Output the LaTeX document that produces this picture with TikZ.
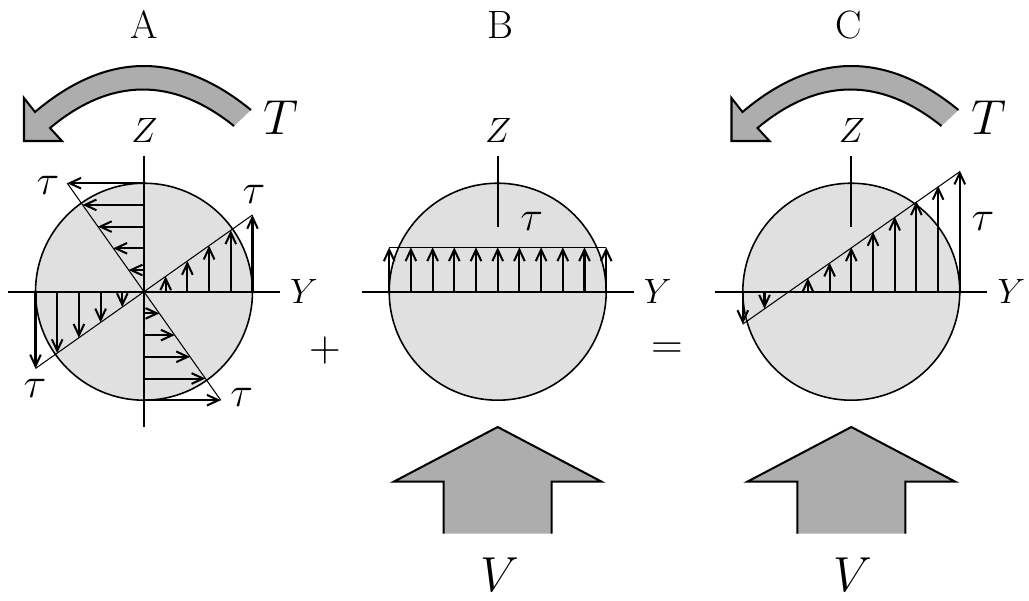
\RequirePackage{fix-cm}
\documentclass[tikz,border=0pt]{standalone}
\usetikzlibrary{arrows.meta}
\definecolor{discgray}{gray}{0.88}
\definecolor{loadgray}{gray}{0.68}
\tikzstyle{disc}=[draw=black,fill=discgray,line width=0.9pt]
\tikzstyle{axis}=[draw,line width=1.15pt]
\tikzstyle{profile}=[draw,line width=0.6pt]
\tikzstyle{stress}=[draw,->,>={Straight Barb[length=6.5pt,width=8pt,angle'=50]},line width=1.15pt]
\tikzstyle{outline}=[draw,line width=1.15pt,line join=miter]
\tikzstyle{title}=[font=\fontsize{22.5}{26}\selectfont]
\tikzstyle{axislabel}=[font=\fontsize{20}{24}\selectfont]
\tikzstyle{biglabel}=[font=\fontsize{28}{32}\selectfont]
\tikzstyle{weight}=[font=\fontsize{24}{28}\selectfont]
\tikzstyle{sign}=[font=\fontsize{25}{30}\selectfont]

\begin{document}
\begin{tikzpicture}[x=0.02cm,y=-0.02cm]

  \def\u{21.7};
  \def\s{15.35};
  \def\yc{291.7};

  \useasboundingbox (0,0) rectangle (1029,600);

  % discs and axes
  \foreach \cx/\name/\label/\lx in {144/A/A/144, 497.7/B/B/500, 851.3/C/C/849} {
    \path[disc] (\cx,\yc) circle (108.5);
    \node[title] (title\name) at (\lx,25) {\label};
    \node[axislabel] (z\name) at (\cx+0.5,130) {$Z$};
    \node[axislabel] (y\name) at (\cx+160,291) {$Y$};
    \path[axis] (\cx-136,\yc) -- (\cx+136,\yc);
  }
  \path[axis] (144,155.5) -- (144,427);
  \path[axis] (497.7,155.5) -- (497.7,227);
  \path[axis] (851.3,155.5) -- (851.3,227);

  % torque arrows
  \def\torqueout{(\x+251,110) .. controls (\x+179,51) and (\x+107,51) .. (\x+35,112) -- (\x+24,98) -- (\x+24,141) -- (\x+62,141) -- (\x+50,128) .. controls (\x+111,77) and (\x+173,77) .. (\x+234,126)}
  \foreach \x/\name in {0/A, 707.5/C} {
    \fill[loadgray] \torqueout -- cycle;
    \path[outline] \torqueout;
    \node[biglabel] (torque\name) at (\x+281,118) {$T$};
  }

  % shear arrows
  \foreach \x/\name in {497.7/B, 851.3/C} {
    \path[fill=loadgray] (\x,427) -- (\x+104,481.7) -- (\x+54,481.7) -- (\x+54,533.5) -- (\x-54,533.5) -- (\x-54,481.7) -- (\x-104,481.7) -- cycle;
    \path[outline] (\x-54,533.5) -- (\x-54,481.7) -- (\x-104,481.7) -- (\x,427) -- (\x+104,481.7) -- (\x+54,481.7) -- (\x+54,533.5);
    \node[biglabel] (shear\name) at (\x+2,575) {$V$};
  }

  % A: torsion
  \path[profile] (144-108.5,\yc+76.75) -- (144+108.5,\yc-76.75);
  \path[profile] (144-76.75,\yc-108.5) -- (144+76.75,\yc+108.5);
  \foreach \k in {1,...,5} {
    \path[stress] (144+\k*\u,\yc) -- (144+\k*\u,\yc-\k*\s);
    \path[stress] (144-\k*\u,\yc) -- (144-\k*\u,\yc+\k*\s);
    \path[stress] (144,\yc-\k*\u) -- (144-\k*\s,\yc-\k*\u);
    \path[stress] (144,\yc+\k*\u) -- (144+\k*\s,\yc+\k*\u);
  }

  % B: shear
  \path[profile] (389.2,247.3) -- (606.2,247.3);
  \foreach \k in {-5,...,5}
    \path[stress] (497.7+\k*\u,\yc) -- (497.7+\k*\u,247.3);

  % C: sum
  \path[profile] (851.3-108.5,\yc+32.4) -- (851.3+108.5,\yc-120);
  \foreach \k in {-5,-4,-2,-1,0,1,2,3,4,5}
    \path[stress] (851.3+\k*\u,\yc) -- (851.3+\k*\u,\yc-44.4-\k*\s);

  % stress labels
  \foreach \x/\y/\name in {48/185/tauA, 254/194/tauB, 35/388/tauC, 241.7/397/tauD, 531.7/221/tauE, 983/221/tauF}
    \node[weight] (\name) at (\x,\y) {$\tau$};

  \node[sign] (plus) at (325,351) {$+$};
  \node[sign] (equals) at (667,351) {$=$};

\end{tikzpicture}
\end{document}
